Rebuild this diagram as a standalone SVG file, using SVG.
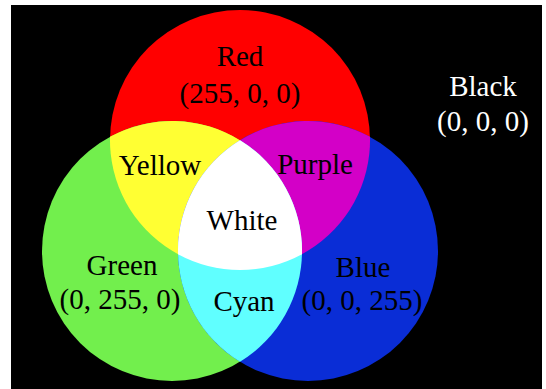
<svg xmlns="http://www.w3.org/2000/svg" width="546" height="389" viewBox="0 0 546 389">
<style>
text{font-family:"Liberation Serif","Times New Roman",serif;font-size:29px;text-anchor:middle;fill:#000}
.w{fill:#fff}
</style>
<rect x="0" y="0" width="546" height="389" fill="#fff"/>
<rect x="11" y="5" width="531" height="384" fill="#000"/>
<g id="red"><circle cx="240" cy="140" r="130" fill="#ff0000"/></g>
<g id="green"><circle cx="172" cy="251" r="130" fill="#72ef4d"/></g>
<g id="blue"><circle cx="308" cy="251" r="130" fill="#0a2dd6"/></g>
<g id="yellow"><path d="M110,136.8 A130,130 0 0 1 302,254.2 A130,130 0 0 1 110,136.8 Z" fill="#ffff33"/></g>
<g id="purple"><path d="M370,136.8 A130,130 0 0 1 178,254.2 A130,130 0 0 1 370,136.8 Z" fill="#d300c7"/></g>
<g id="cyan"><path d="M240,140.2 A130,130 0 0 1 240,361.8 A130,130 0 0 1 240,140.2 Z" fill="#60ffff"/></g>
<g id="white"><path d="M240,140.2 A130,130 0 0 1 302,254.2 A130,130 0 0 1 178,254.2 A130,130 0 0 1 240,140.2 Z" fill="#ffffff"/></g>
<g id="labels">
<text x="240" y="66">Red</text>
<text x="240" y="103">(255, 0, 0)</text>
<text class="w" x="483" y="96">Black</text>
<text class="w" x="483" y="131">(0, 0, 0)</text>
<text x="160" y="175">Yellow</text>
<text x="315" y="174">Purple</text>
<text x="242" y="230">White</text>
<text x="122" y="275">Green</text>
<text x="120" y="309">(0, 255, 0)</text>
<text x="363" y="277">Blue</text>
<text x="362" y="310">(0, 0, 255)</text>
<text x="244" y="311">Cyan</text>
</g>
</svg>
